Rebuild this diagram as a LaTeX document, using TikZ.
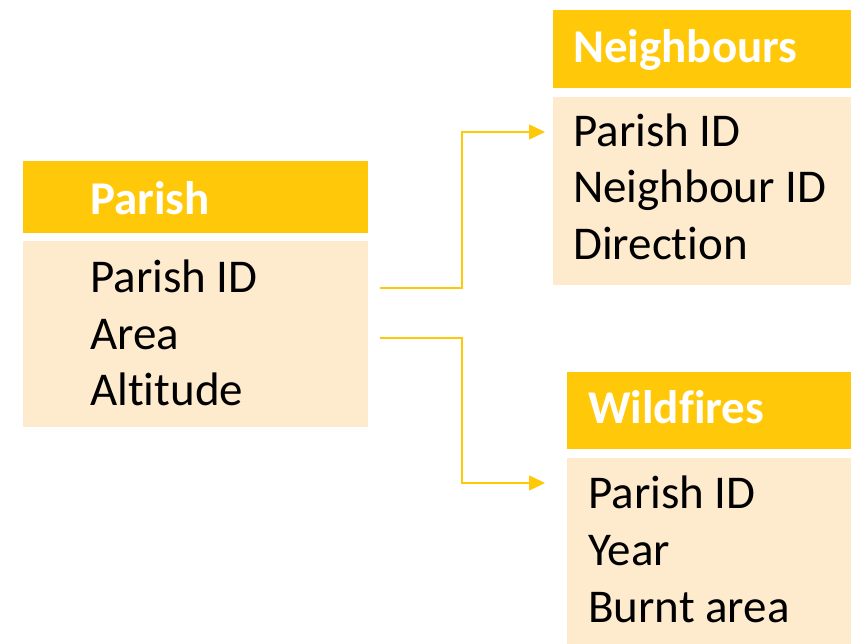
\documentclass[tikz,border=0pt]{standalone}
\usepackage{fontspec}
\setmainfont{Carlito}[RawFeature={-liga,-clig}]
\usetikzlibrary{arrows.meta}
\definecolor{gold}{HTML}{FFC90A}
\definecolor{cream}{HTML}{FEEACC}
\begin{document}
\begin{tikzpicture}[x=1pt,y=-1pt,
  hdrbox/.style={fill=gold, draw=none, inner sep=0pt, anchor=north west},
  bodybox/.style={fill=cream, draw=none, inner sep=0pt, anchor=north west},
  htext/.style={anchor=base west, inner sep=0pt, text=white, font=\fontsize{47}{47}\selectfont\bfseries},
  btext/.style={anchor=base west, inner sep=0pt, font=\fontsize{47}{47}\selectfont},
  conn/.style={draw=gold, line width=1.5pt, -{Triangle[length=16pt,width=15pt]}}]
\fill[white] (0,0) rectangle (851,644);
\useasboundingbox (0,0) rectangle (851,644);
% Parish
\node[hdrbox, minimum width=345pt, minimum height=72pt] (ph) at (23,161) {};
\node[bodybox, minimum width=345pt, minimum height=186pt] (pb) at (23,241) {};
\node[htext] (pht) at (90,215) {Parish};
\node[btext] (p1) at (90,292) {Parish ID};
\node[btext] (p2) at (90,349) {Area};
\node[btext] (p3) at (90,405) {Altitude};
% Neighbours
\node[hdrbox, minimum width=298pt, minimum height=78pt] (nh) at (553,10) {};
\node[bodybox, minimum width=298pt, minimum height=188pt] (nb) at (553,97) {};
\node[htext] (nht) at (573,63) {Neighbours};
\node[btext] (n1) at (573,147) {Parish ID};
\node[btext] (n2) at (573,203) {Neighbour ID};
\node[btext] (n3) at (573,260) {Direction};
% Wildfires
\node[hdrbox, minimum width=284pt, minimum height=77pt] (wh) at (567,372) {};
\node[bodybox, minimum width=284pt, minimum height=186pt] (wb) at (567,458) {};
\node[htext] (wht) at (588,423) {Wildfires};
\node[btext] (w1) at (588,508) {Parish ID};
\node[btext] (w2) at (588,565) {Year};
\node[btext] (w3) at (588,622) {Burnt area};
% connectors
\coordinate (s1) at (380,288);
\coordinate (k1) at (462,132);
\coordinate (t1) at (545,132);
\coordinate (s2) at (380,338);
\coordinate (k2) at (462,483);
\coordinate (t2) at (545,483);
\draw[conn] (s1) -| (k1) -- (t1);
\draw[conn] (s2) -| (k2) -- (t2);
\end{tikzpicture}
\end{document}
